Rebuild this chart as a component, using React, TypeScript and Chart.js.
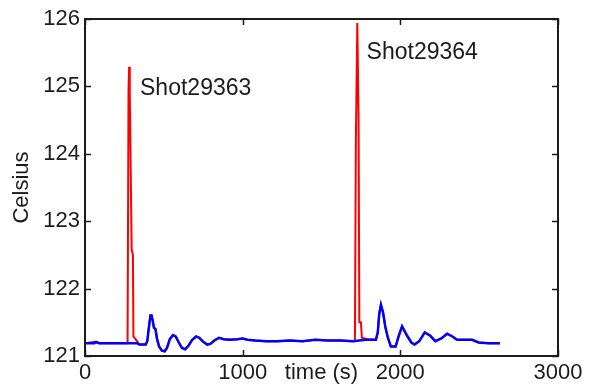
import React, { useEffect, useRef } from "react";
import { Chart, registerables } from "chart.js";

Chart.register(...registerables);

// ---- data ----
const blueTime = [
  0, 60, 70, 90, 150, 250, 300, 330, 345, 385, 395, 405, 415, 422, 430, 437, 447, 457,
  470, 488, 505, 520, 538, 558, 575, 595, 615, 635, 655, 680, 705, 725, 750, 775, 795,
  820, 850, 880, 920, 965, 1000, 1030, 1080, 1150, 1220, 1300, 1380, 1460, 1540, 1620,
  1700, 1780, 1845, 1857, 1866, 1877, 1890, 1905, 1920, 1940, 1970, 1990, 2011, 2043,
  2070, 2090, 2120, 2155, 2190, 2222, 2260, 2297, 2330, 2360, 2455, 2497, 2560, 2632,
];
const blueTemp = [
  121.19, 121.19, 121.21, 121.19, 121.19, 121.19, 121.19, 121.19, 121.17, 121.17, 121.22, 121.42, 121.6, 121.6, 121.52, 121.42, 121.4, 121.25,
  121.14, 121.08, 121.07, 121.12, 121.25, 121.31, 121.29, 121.2, 121.12, 121.1, 121.15, 121.24, 121.29, 121.27, 121.21, 121.17, 121.18,
  121.23, 121.27, 121.25, 121.24, 121.25, 121.26, 121.24, 121.23, 121.22, 121.22, 121.23, 121.22, 121.24, 121.23, 121.23,
  121.22, 121.24, 121.24, 121.35, 121.62, 121.76, 121.65, 121.43, 121.28, 121.14, 121.14, 121.3, 121.44, 121.3,
  121.2, 121.17, 121.22, 121.35, 121.3, 121.22, 121.26, 121.33, 121.29, 121.24, 121.24, 121.2, 121.19, 121.19,
];
const redTime = [
  0, 63, 70, 90, 150, 250, 270, 276, 280, 284, 296, 304, 307, 330, 345, 385, 395, 405, 415, 422,
  430, 437, 447, 457, 470, 488, 505, 520, 538, 558, 575, 595, 615, 635, 655, 680, 705, 725, 750,
  775, 795, 820, 850, 880, 920, 965, 1000, 1030, 1080, 1150, 1220, 1300, 1380, 1460, 1540, 1620,
  1700, 1712, 1718, 1727, 1735, 1740, 1750, 1756, 1790, 1845, 1857, 1866, 1877, 1890, 1905, 1920,
  1940, 1970, 1990, 2011, 2043, 2070, 2090, 2120, 2155, 2190, 2222, 2260, 2297, 2330, 2360, 2455,
  2497, 2560, 2632,
];
const redTemp = [
  121.19, 121.21, 121.2, 121.19, 121.19, 121.19, 121.19, 124.93, 125.29, 124.9, 122.58, 122.5, 121.29, 121.22, 121.17, 121.17, 121.22, 121.42, 121.6, 121.6,
  121.52, 121.42, 121.4, 121.25, 121.14, 121.08, 121.07, 121.12, 121.25, 121.31, 121.29, 121.2, 121.12, 121.1, 121.15, 121.24, 121.29, 121.27, 121.21,
  121.17, 121.18, 121.23, 121.27, 121.25, 121.24, 121.25, 121.26, 121.24, 121.23, 121.22, 121.22, 121.23, 121.22, 121.24, 121.23, 121.23,
  121.22, 121.23, 124.2, 125.94, 124.55, 121.5, 121.5, 121.27, 121.25, 121.24, 121.35, 121.62, 121.76, 121.65, 121.43, 121.28,
  121.14, 121.14, 121.3, 121.44, 121.3, 121.2, 121.17, 121.22, 121.35, 121.3, 121.22, 121.26, 121.33, 121.29, 121.24, 121.24,
  121.2, 121.19, 121.19,
];
const xTicks = [0, 1000, 2000, 3000];
const yTicks = [121, 122, 123, 124, 125, 126];
const xTitle = "time (s)";
const xTitleAt = 1500;
const yTitle = "Celsius";
const noteLabels = ["Shot29363", "Shot29364"];
const noteTime = [349, 1786];
const noteTemp = [124.97, 125.5];

const FONT = '"Liberation Sans", Arial, Helvetica, sans-serif';
const INK = "#1c1c1c";

const framePlugin = {
  id: "matlabFrame",
  afterDraw(chart: any) {
    const { ctx, chartArea: a, scales } = chart;
    const xs = scales.x;
    const ys = scales.y;
    ctx.save();
    ctx.strokeStyle = INK;
    ctx.lineWidth = 2;
    ctx.strokeRect(a.left, a.top, a.right - a.left, a.bottom - a.top);
    ctx.lineWidth = 1.5;
    const tl = 6;
    ctx.beginPath();
    xTicks.forEach((v) => {
      const px = Math.round(xs.getPixelForValue(v)) + 0.5;
      ctx.moveTo(px, a.bottom);
      ctx.lineTo(px, a.bottom - tl);
      ctx.moveTo(px, a.top);
      ctx.lineTo(px, a.top + tl);
    });
    yTicks.forEach((v) => {
      const py = Math.round(ys.getPixelForValue(v)) + 0.5;
      ctx.moveTo(a.left, py);
      ctx.lineTo(a.left + tl, py);
      ctx.moveTo(a.right, py);
      ctx.lineTo(a.right - tl, py);
    });
    ctx.stroke();

    ctx.fillStyle = INK;
    ctx.font = `22px ${FONT}`;
    ctx.textAlign = "center";
    ctx.textBaseline = "middle";
    ctx.fillText(xTitle, xs.getPixelForValue(xTitleAt), a.bottom + 17);

    ctx.save();
    ctx.translate(22, (a.top + a.bottom) / 2);
    ctx.rotate(-Math.PI / 2);
    ctx.fillText(yTitle, 0, 0);
    ctx.restore();

    ctx.font = `23px ${FONT}`;
    ctx.textAlign = "left";
    noteLabels.forEach((s, i) => {
      ctx.fillText(s, xs.getPixelForValue(noteTime[i]), ys.getPixelForValue(noteTemp[i]));
    });
    ctx.restore();
  },
};

export default function App() {
  const ref = useRef<HTMLCanvasElement>(null);
  useEffect(() => {
    if (!ref.current) return;
    const chart = new Chart(ref.current, {
      type: "line",
      data: {
        datasets: [
          {
            label: "blue",
            data: blueTime.map((t, i) => ({ x: t, y: blueTemp[i] })),
            borderColor: "#0000ff",
            borderWidth: 2.5,
            pointRadius: 0,
            tension: 0,
            fill: false,
          },
          {
            label: "red",
            data: redTime.map((t, i) => ({ x: t, y: redTemp[i] })),
            borderColor: "#ff0000",
            borderWidth: 2,
            pointRadius: 0,
            tension: 0,
            fill: false,
          },
        ],
      },
      options: {
        animation: false,
        responsive: false,
        devicePixelRatio: 1,
        layout: { padding: { top: 19, right: 36, left: 0, bottom: 0 } },
        plugins: { legend: { display: false }, tooltip: { enabled: false } },
        scales: {
          x: {
            type: "linear",
            min: 0,
            max: 3000,
            afterBuildTicks: (s: any) => {
              s.ticks = xTicks.map((v) => ({ value: v }));
            },
            ticks: {
              callback: (v: any) => String(v),
              font: { family: FONT, size: 22 },
              color: INK,
              padding: 4,
              maxRotation: 0,
              autoSkip: false,
            },
            grid: { display: false, drawTicks: false },
            border: { display: false },
            afterFit: (s: any) => {
              s.height = 32;
            },
          },
          y: {
            type: "linear",
            min: 121,
            max: 126,
            afterBuildTicks: (s: any) => {
              s.ticks = yTicks.map((v) => ({ value: v }));
            },
            ticks: {
              callback: (v: any) => String(v),
              font: { family: FONT, size: 22 },
              color: INK,
              padding: 5,
            },
            grid: { display: false, drawTicks: false },
            border: { display: false },
            afterFit: (s: any) => {
              s.width = 85;
            },
          },
        },
      },
      plugins: [framePlugin],
    });
    return () => chart.destroy();
  }, []);
  return (
    <div style={{ position: "absolute", left: 0, top: 0, width: 594, height: 388, background: "#fff" }}>
      <canvas ref={ref} width={594} height={388} />
    </div>
  );
}
